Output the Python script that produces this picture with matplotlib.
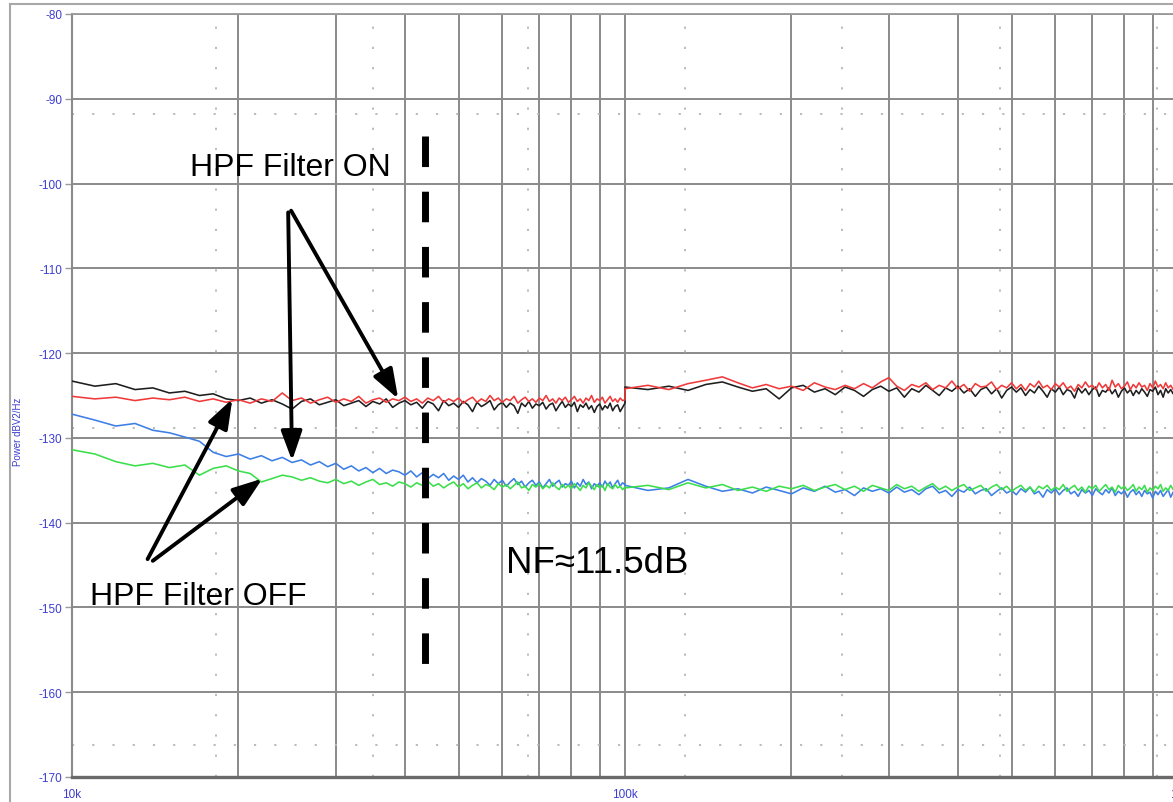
import numpy as np
import matplotlib
matplotlib.use("Agg")
import matplotlib.pyplot as plt
from matplotlib.lines import Line2D
from matplotlib.ticker import LogLocator, NullFormatter


## frequency grid : the analyser sweeps two linear segments
freq_low = np.arange(10e3, 100e3 + 1, 1e3)      # 10k -> 100k, 1k step
freq_high = np.arange(100e3, 1e6 + 1, 10e3)     # 100k -> 1M, 10k step

## HPF filter ON, black trace (dBV2/Hz)
black_low = [
    -123.3, -123.9, -123.6, -124.3, -124.1, -124.7, -124.5, -125.0, -124.8, -125.4,
    -125.6, -125.3, -125.9, -125.5, -126.0, -126.6, -125.7, -125.4, -126.1, -125.8,
    -125.5, -126.2, -125.9, -125.6, -126.3, -125.7, -126.0, -125.4, -126.4, -125.9,
    -125.6, -126.1, -125.8, -126.5, -125.7, -126.0, -126.8, -125.6, -126.2, -125.9,
    -126.4, -125.7, -126.1, -126.9, -125.8, -126.3, -126.0, -125.6, -126.7, -126.1,
    -125.8, -126.4, -125.9, -126.2, -127.1, -125.9, -126.3, -125.7, -126.5, -126.0,
    -126.2, -125.8, -126.6, -126.1, -125.9, -126.8, -126.2, -125.7, -126.4, -126.0,
    -126.3, -125.8, -126.9, -126.1, -126.4, -125.9, -126.6, -126.2, -127.0, -126.3,
    -126.0, -126.7, -126.2, -126.5, -125.9, -126.8, -126.3, -126.1, -126.9, -126.4,
    -125.9]
black_high = [
    -124.0, -124.3, -123.9, -124.4, -123.7, -123.4, -124.0, -124.5, -124.2, -125.4,
    -124.1, -123.8, -124.6, -124.2, -124.9, -124.0, -124.4, -125.1, -124.3, -123.9,
    -124.5, -124.1, -125.2, -124.2, -124.6, -123.8, -124.4, -125.0, -124.1, -124.5,
    -123.9, -124.7, -124.2, -125.1, -124.3, -124.0, -124.8, -124.2, -125.3, -124.4,
    -124.0, -124.6, -124.1, -125.0, -124.3, -124.7, -123.9, -124.5, -125.2, -124.2,
    -124.6, -124.0, -124.9, -124.3, -124.5, -125.3, -124.1, -124.7, -124.2, -124.9,
    -124.3, -124.0, -125.1, -124.4, -124.6, -124.1, -124.8, -124.3, -125.2, -124.5,
    -124.1, -124.7, -124.3, -125.0, -124.4, -124.8, -124.2, -124.6, -125.1, -124.3,
    -124.5, -124.0, -124.9, -124.4, -125.2, -124.2, -124.7, -124.3, -124.8, -124.5,
    -124.4]

## HPF filter ON, red trace
red_low = [
    -125.1, -125.4, -125.2, -125.6, -125.3, -125.5, -125.2, -125.7, -125.4, -125.8,
    -125.5, -125.9, -125.4, -125.7, -124.7, -125.6, -125.3, -125.9, -125.5, -125.2,
    -125.8, -125.4, -125.7, -125.1, -125.9, -125.5, -125.3, -125.8, -125.4, -125.6,
    -125.2, -125.7, -125.4, -125.9, -125.3, -125.6, -125.1, -125.8, -125.4, -125.7,
    -125.3, -125.9, -125.5, -125.2, -125.8, -125.4, -125.7, -125.0, -125.6, -125.3,
    -125.8, -125.4, -125.6, -125.1, -125.9, -125.5, -125.2, -125.7, -125.4, -125.8,
    -125.3, -125.6, -125.0, -125.7, -125.4, -125.9, -125.3, -125.6, -125.2, -125.8,
    -125.5, -125.1, -125.7, -125.4, -125.9, -125.3, -125.6, -125.0, -125.8, -125.4,
    -125.6, -125.2, -125.9, -125.5, -125.1, -125.7, -125.4, -125.8, -125.3, -125.6,
    -125.5]
red_high = [
    -124.2, -123.8, -124.3, -123.6, -123.2, -122.8, -123.5, -124.1, -123.7, -124.2,
    -123.9, -124.4, -123.5, -124.0, -124.3, -123.8, -124.2, -123.6, -124.1, -123.4,
    -122.9, -123.9, -124.4, -123.7, -124.0, -123.5, -124.3, -123.8, -124.1, -123.3,
    -124.2, -123.7, -124.5, -123.6, -124.0, -123.9, -123.4, -124.3, -123.8, -124.1,
    -123.5, -124.2, -123.7, -124.4, -123.6, -124.0, -123.3, -124.1, -123.8, -124.3,
    -123.6, -124.0, -123.5, -124.2, -123.9, -124.5, -123.7, -124.1, -123.4, -124.0,
    -123.8, -124.3, -123.5, -124.1, -123.7, -124.4, -123.2, -124.0, -123.6, -124.2,
    -123.9, -123.4, -124.3, -123.7, -124.1, -123.5, -124.0, -123.8, -124.4, -123.6,
    -124.1, -123.3, -124.0, -123.7, -124.2, -123.5, -124.1, -123.8, -124.3, -123.6,
    -124.0]

## HPF filter OFF, blue trace
blue_low = [
    -127.2, -127.9, -128.6, -128.3, -129.1, -129.4, -129.9, -130.4, -131.7, -132.2,
    -131.9, -132.5, -132.1, -132.7, -132.3, -132.9, -132.6, -133.2, -132.8, -133.4,
    -133.0, -133.7, -133.3, -133.9, -133.5, -134.1, -133.6, -134.2, -133.8, -134.0,
    -134.4, -133.9, -134.6, -134.1, -134.8, -134.3, -134.7, -134.2, -135.0, -134.5,
    -134.9, -134.4, -135.2, -134.7, -135.3, -134.8, -135.1, -135.6, -134.9, -135.4,
    -135.0, -135.7, -135.2, -134.8, -135.5, -135.1, -135.8, -135.3, -135.0, -135.6,
    -135.2, -135.9, -135.4, -134.9, -135.7, -135.3, -135.0, -135.8, -135.4, -135.6,
    -135.1, -135.9, -135.3, -135.7, -134.9, -135.5, -135.2, -136.0, -135.4, -135.7,
    -135.3, -135.8, -135.1, -135.6, -135.2, -135.9, -135.4, -135.0, -135.7, -135.3,
    -135.5]
blue_high = [
    -135.6, -136.2, -135.9, -134.9, -135.7, -136.3, -136.0, -136.5, -135.8, -136.2,
    -136.6, -135.9, -136.3, -135.7, -136.4, -136.1, -136.8, -135.9, -136.3, -136.0,
    -136.5, -135.8, -136.4, -136.1, -136.7, -136.0, -135.7, -136.5, -136.2, -136.9,
    -136.1, -136.4, -135.8, -136.6, -136.2, -136.0, -136.8, -136.3, -135.9, -136.5,
    -136.2, -136.7, -136.0, -136.4, -135.8, -136.6, -136.3, -137.0, -136.1, -136.5,
    -136.0, -136.7, -136.2, -135.9, -136.6, -136.3, -136.9, -136.1, -136.5, -136.2,
    -136.8, -136.0, -136.4, -136.7, -136.1, -136.5, -135.9, -136.8, -136.3, -136.6,
    -136.2, -137.0, -136.4, -136.1, -136.7, -136.3, -136.9, -136.2, -136.6, -136.4,
    -137.1, -136.3, -136.7, -136.2, -136.9, -136.5, -136.1, -137.0, -136.4, -136.8,
    -136.5]

## HPF filter OFF, green trace
green_low = [
    -131.4, -131.9, -132.8, -133.3, -133.0, -133.5, -133.2, -134.4, -133.6, -133.3,
    -133.9, -134.2, -135.2, -134.8, -134.4, -134.6, -135.0, -134.7, -135.1, -135.3,
    -134.9, -135.4, -135.1, -135.6, -135.2, -134.9, -135.5, -135.3, -135.7, -135.2,
    -135.4, -135.8, -135.3, -135.6, -135.1, -135.7, -135.4, -135.9, -135.5, -135.2,
    -135.8, -135.4, -136.0, -135.6, -135.3, -135.9, -135.5, -135.7, -136.1, -135.4,
    -135.8, -135.5, -136.0, -135.6, -135.2, -135.9, -135.7, -136.2, -135.5, -135.8,
    -135.4, -136.0, -135.6, -135.9, -135.3, -135.8, -136.1, -135.5, -135.9, -135.6,
    -136.0, -135.4, -135.8, -136.2, -135.6, -135.9, -135.3, -135.7, -136.1, -135.5,
    -135.9, -135.6, -136.2, -135.4, -135.8, -136.0, -135.5, -135.9, -135.7, -136.1,
    -135.8]
green_high = [
    -135.9, -135.6, -136.1, -135.3, -135.9, -135.5, -136.2, -135.8, -136.3, -135.7,
    -136.0, -135.6, -136.2, -135.8, -135.5, -136.1, -135.7, -136.3, -135.6, -135.9,
    -136.2, -135.5, -136.0, -135.7, -136.3, -135.8, -135.4, -136.1, -135.7, -136.2,
    -135.8, -135.5, -136.2, -135.9, -135.6, -136.3, -135.8, -135.5, -136.1, -135.7,
    -136.3, -135.9, -135.6, -136.2, -135.8, -136.4, -135.7, -136.0, -135.6, -136.2,
    -135.8, -136.1, -135.5, -136.3, -135.9, -135.6, -136.2, -135.8, -136.4, -135.7,
    -136.0, -135.6, -136.3, -135.9, -135.5, -136.1, -135.8, -136.4, -135.6, -136.0,
    -135.7, -136.2, -135.9, -135.5, -136.3, -135.8, -136.1, -135.6, -136.4, -135.9,
    -136.2, -135.7, -136.0, -135.5, -136.3, -135.9, -136.2, -135.6, -136.1, -135.8,
    -136.0]

## axis ticks
y_ticks = [-170, -160, -150, -140, -130, -120, -110, -100, -90, -80]
x_ticks = [1e4, 1e5, 1e6]
x_tick_labels = ["10k", "100k", "1M"]

## annotations
nf_marker_freq = 43.5e3
nf_marker_span = [-94.4, -157.3]   # drawn top -> bottom
label_on = "HPF Filter ON"
label_off = "HPF Filter OFF"
label_nf = "NF\u224811.5dB"


def plot_spectrum():
    """
    noise spectrum, HPF filter on / off
    """

    ## parameters
    W, H = 1173, 803
    tick_color = "#3d3dd0"
    grid_color = "#8a8a8a"
    font = ["Liberation Sans", "DejaVu Sans"]

    ## figure
    fig = plt.figure(figsize=(W / 100, H / 100), dpi=100)
    fig.patch.set_facecolor("white")
    # axes goes a bit past the right edge (1M is cut)
    ax = fig.add_axes([72 / W, 25 / H, (1178 - 72) / W, (778 - 15) / H])
    ax.set_xscale("log")
    ax.set_xlim(1e4, 1e6)
    ax.set_ylim(-170, -80)

    ## traces
    freq = np.concatenate([freq_low, freq_high])
    ax.plot(freq, np.concatenate([blue_low, blue_high]), color="#3c7fe6", lw=1.15, zorder=3)
    ax.plot(freq, np.concatenate([green_low, green_high]), color="#3adf4a", lw=1.15, zorder=3)
    ax.plot(freq, np.concatenate([black_low, black_high]), color="#1e1e1e", lw=1.15, zorder=3)
    ax.plot(freq, np.concatenate([red_low, red_high]), color="#f03a3a", lw=1.15, zorder=3)

    ## grid
    ax.xaxis.set_minor_locator(LogLocator(base=10, subs=np.arange(2, 10)))
    ax.xaxis.set_minor_formatter(NullFormatter())
    ax.grid(True, which="both", color=grid_color, lw=1.4, zorder=1)
    ax.set_axisbelow(True)
    # dotted secondary grid (axes fraction)
    for fy in [0.869, 0.457, 0.042]:
        ax.plot([0, 1], [fy, fy], transform=ax.transAxes, color="#b5b5b5",
                lw=1.3, ls=(0, (1.2, 10)), zorder=1.5)
    for fx in [0.130, 0.272, 0.412, 0.554, 0.696, 0.839, 0.981]:
        ax.plot([fx, fx], [0, 1], transform=ax.transAxes, color="#b5b5b5",
                lw=1.3, ls=(0, (1.2, 10)), zorder=1.5)

    ## spines
    ax.spines["right"].set_visible(False)
    ax.spines["top"].set_color("#9a9a9a")
    ax.spines["top"].set_linewidth(1.3)
    ax.spines["left"].set_color("#8a8a8a")
    ax.spines["left"].set_linewidth(1.5)
    ax.spines["bottom"].set_color("#6a6a6a")
    ax.spines["bottom"].set_linewidth(2.4)

    ## ticks
    ax.set_yticks(y_ticks)
    ax.set_yticklabels([str(v) for v in y_ticks])
    ax.set_xticks(x_ticks)
    ax.set_xticklabels(x_tick_labels)
    ax.tick_params(axis="y", which="major", length=5, width=1, color="#9a9a9a",
                   labelcolor=tick_color, labelsize=8.5, pad=2)
    ax.tick_params(axis="x", which="major", length=0, labelcolor=tick_color,
                   labelsize=8.5, pad=8)
    ax.tick_params(axis="x", which="minor", length=0)
    for lab in ax.get_xticklabels() + ax.get_yticklabels():
        lab.set_family(font)

    ## y label
    fig.text(18 / W, 1 - 432 / H, "Power dBV2/Hz", rotation=90, ha="center",
             va="center", color=tick_color, fontsize=7, family=font)

    ## outer frame
    fig.add_artist(Line2D([10 / W, 10 / W], [0, 1 - 5 / H], transform=fig.transFigure,
                          color="#a8a8a8", lw=1.5))
    fig.add_artist(Line2D([10 / W, 1], [1 - 5 / H, 1 - 5 / H], transform=fig.transFigure,
                          color="#a8a8a8", lw=1.5))

    ## dashed NF marker
    ax.plot([nf_marker_freq, nf_marker_freq], nf_marker_span, color="black", lw=5,
            dashes=(4.4, 3.55), solid_capstyle="butt", dash_capstyle="butt", zorder=4)

    ## texts
    ax.text(16.35e3, -99.0, label_on, fontsize=23, family=font, va="baseline", zorder=5)
    ax.text(10.78e3, -149.6, label_off, fontsize=23, family=font, va="baseline", zorder=5)
    ax.text(60.9e3, -145.8, label_nf, fontsize=26.5, family=font, va="baseline", zorder=5)

    ## arrows
    arrow = dict(arrowstyle="-|>,head_length=0.9,head_width=0.32", lw=2.8,
                 color="black", mutation_scale=20, shrinkA=0, shrinkB=0)
    ax.annotate("", xy=(38.9e3, -125.4), xytext=(24.9e3, -103.2), arrowprops=arrow, zorder=5)
    ax.annotate("", xy=(25.0e3, -132.7), xytext=(24.6e3, -103.4), arrowprops=arrow, zorder=5)
    ax.annotate("", xy=(19.5e3, -125.4), xytext=(13.7e3, -144.3), arrowprops=arrow, zorder=5)
    ax.annotate("", xy=(22.1e3, -134.8), xytext=(14.0e3, -144.5), arrowprops=arrow, zorder=5)

    ## save
    fig.savefig("out.png", dpi=100)
    plt.close(fig)


plot_spectrum()
